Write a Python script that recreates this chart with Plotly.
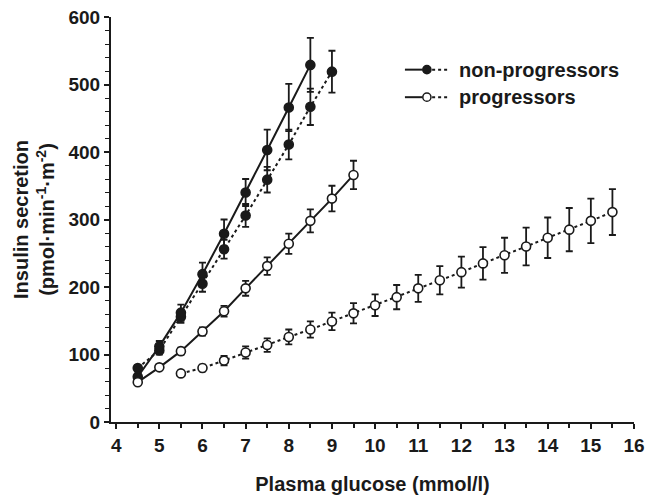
import plotly.graph_objects as go

# Non-progressors, solid line (filled circles)
np_solid_x = [4.5, 5, 5.5, 6, 6.5, 7, 7.5, 8, 8.5]
np_solid_y = [67, 112, 162, 219, 279, 340, 403, 466, 529]
np_solid_e = [5, 8, 12, 17, 21, 20, 30, 35, 40]

# Non-progressors, dotted line (filled circles)
np_dot_x = [4.5, 5, 5.5, 6, 6.5, 7, 7.5, 8, 8.5, 9]
np_dot_y = [80, 106, 156, 205, 256, 306, 359, 411, 467, 519]
np_dot_e = [4, 6, 9, 12, 14, 17, 19, 22, 27, 31]

# Progressors, solid line (open circles)
p_solid_x = [4.5, 5, 5.5, 6, 6.5, 7, 7.5, 8, 8.5, 9, 9.5]
p_solid_y = [59, 81, 105, 134, 164, 198, 231, 264, 298, 331, 366]
p_solid_e = [3, 4, 5, 6, 8, 11, 13, 15, 17, 19, 21]

# Progressors, dotted line (open circles)
p_dot_x = [5.5, 6, 6.5, 7, 7.5, 8, 8.5, 9, 9.5, 10, 10.5, 11, 11.5,
           12, 12.5, 13, 13.5, 14, 14.5, 15, 15.5]
p_dot_y = [72, 80, 91, 103, 114, 126, 137, 149, 161, 173, 185, 198, 210,
           222, 235, 247, 260, 273, 285, 298, 311]
p_dot_e = [4, 5, 7, 9, 10, 11, 12, 13, 15, 16, 18, 20, 21,
           23, 24, 26, 28, 30, 32, 33, 34]

x_ticks = [4, 5, 6, 7, 8, 9, 10, 11, 12, 13, 14, 15, 16]
y_ticks = [0, 100, 200, 300, 400, 500, 600]

FONT = "Liberation Sans"
BLACK = "#1a1a1a"


def series(x, y, e, dash, filled):
    return go.Scatter(
        x=x, y=y, mode="lines+markers",
        line=dict(color=BLACK, width=2, dash=dash),
        marker=dict(symbol="circle", size=9,
                    color=BLACK if filled else "white",
                    line=dict(color=BLACK, width=1.6)),
        error_y=dict(type="data", array=e, visible=True,
                     color=BLACK, thickness=1.8, width=3.5),
        showlegend=False, cliponaxis=False,
    )


fig = go.Figure()
fig.add_trace(series(np_dot_x, np_dot_y, np_dot_e, "3px,3px", True))
fig.add_trace(series(np_solid_x, np_solid_y, np_solid_e, "solid", True))
fig.add_trace(series(p_dot_x, p_dot_y, p_dot_e, "3px,3px", False))
fig.add_trace(series(p_solid_x, p_solid_y, p_solid_e, "solid", False))

# Legend glyphs (paper coordinates)
legend_items = [("non-progressors", True, 0.870), ("progressors", False, 0.802)]
for label, filled, yy in legend_items:
    fig.add_shape(type="line", xref="paper", yref="paper",
                  x0=0.562, x1=0.596, y0=yy, y1=yy,
                  line=dict(color=BLACK, width=2))
    fig.add_shape(type="line", xref="paper", yref="paper",
                  x0=0.614, x1=0.645, y0=yy, y1=yy,
                  line=dict(color=BLACK, width=2, dash="3px,3px"))
    fig.add_shape(type="circle", xref="paper", yref="paper",
                  x0=0.604 - 0.0078, x1=0.604 + 0.0078,
                  y0=yy - 0.0101, y1=yy + 0.0101,
                  fillcolor=BLACK if filled else "white",
                  line=dict(color=BLACK, width=1.5))
    fig.add_annotation(xref="paper", yref="paper", x=0.662, y=yy,
                       text=label, showarrow=False, xanchor="left",
                       yanchor="middle",
                       font=dict(family=FONT, size=20, color=BLACK,
                                 weight="bold"))

fig.update_layout(
    width=651, height=495,
    margin=dict(l=111, r=17, t=17, b=73),
    paper_bgcolor="white", plot_bgcolor="white",
    font=dict(family=FONT, color=BLACK),
    xaxis=dict(
        range=[3.88, 16.0], tickvals=x_ticks, ticks="outside", ticklen=5,
        tickwidth=1.5, tickcolor=BLACK, showline=True, linewidth=2,
        linecolor=BLACK, showgrid=False, zeroline=False, automargin=False,
        minor=dict(dtick=0.5, tick0=0, ticks="outside", ticklen=4,
                   tickwidth=1.5, tickcolor=BLACK),
        tickfont=dict(family=FONT, size=19, color=BLACK, weight="bold"),
        title=dict(text="Plasma glucose (mmol/l)", standoff=26,
                   font=dict(family=FONT, size=20, color=BLACK,
                             weight="bold")),
    ),
    yaxis=dict(
        range=[0, 600], tickvals=y_ticks, ticks="outside", ticklen=5,
        tickwidth=1.5, tickcolor=BLACK, showline=True, linewidth=2,
        linecolor=BLACK, showgrid=False, zeroline=False, automargin=False,
        minor=dict(dtick=20, tick0=0, ticks="outside", ticklen=4,
                   tickwidth=1.2, tickcolor=BLACK),
        tickfont=dict(family=FONT, size=19, color=BLACK, weight="bold"),
        title=dict(text="Insulin secretion<br>(pmol·min<sup>-1</sup>·m<sup>-2</sup>)",
                   standoff=8,
                   font=dict(family=FONT, size=20, color=BLACK,
                             weight="bold")),
    ),
)

fig.write_html("out.html")
